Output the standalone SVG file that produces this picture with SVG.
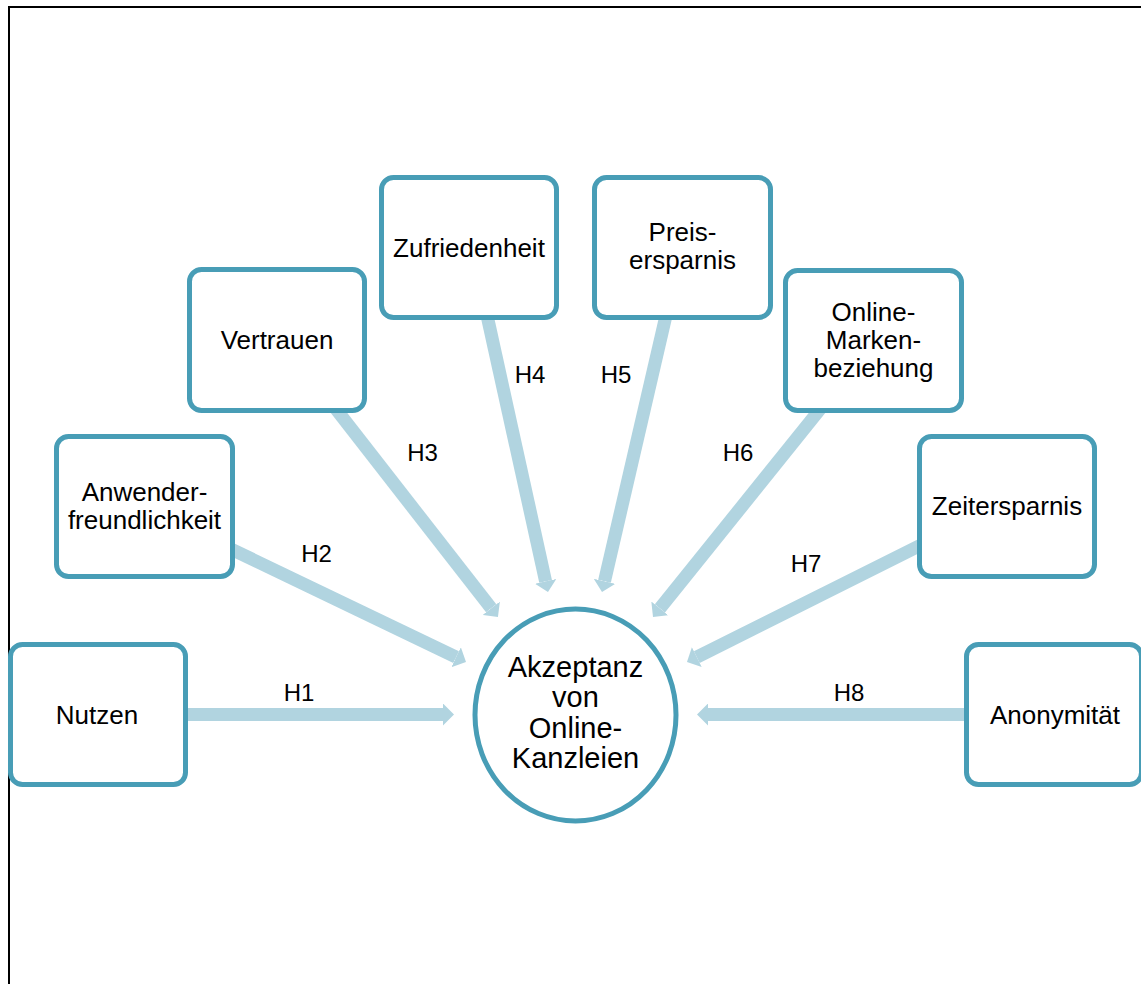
<svg xmlns="http://www.w3.org/2000/svg" width="1141" height="984" viewBox="0 0 1141 984">
<defs>
<style>
.box{fill:#ffffff;stroke:#489db6;stroke-width:5}
.t{font-family:"Liberation Sans",Arial,sans-serif;font-size:26px;fill:#000;text-anchor:middle}
.tc{font-family:"Liberation Sans",Arial,sans-serif;font-size:29px;fill:#000;text-anchor:middle}
.lbl{font-family:"Liberation Sans",Arial,sans-serif;font-size:24px;fill:#000;text-anchor:middle}
.arr{stroke:#b1d4e0;stroke-width:13;fill:none;marker-end:url(#ah)}
</style>
<marker id="ah" markerUnits="userSpaceOnUse" markerWidth="11" markerHeight="22" refX="0" refY="11" orient="auto" viewBox="0 0 11 22">
<path d="M0,0 L11,11 L0,22 z" fill="#b1d4e0"/>
</marker>
</defs>
<rect width="1141" height="984" fill="#ffffff"/>
<rect x="9" y="7" width="1200" height="1100" fill="none" stroke="#000" stroke-width="2"/>
<g id="connectors">
<line class="arr" x1="180" y1="714.5" x2="443" y2="714.5"/>
<line class="arr" x1="228" y1="547.6" x2="456.1" y2="657.2"/>
<line class="arr" x1="334" y1="406.6" x2="491.2" y2="608.3"/>
<line class="arr" x1="486.5" y1="313" x2="545.6" y2="581.3"/>
<line class="arr" x1="666.6" y1="313" x2="604.5" y2="581.3"/>
<line class="arr" x1="822" y1="406.8" x2="659.9" y2="608.4"/>
<line class="arr" x1="924" y1="543.5" x2="696.8" y2="657.1"/>
<line class="arr" x1="970" y1="714.5" x2="708" y2="714.5"/>
</g>
<g id="labels">
<text class="lbl" x="299" y="701">H1</text>
<text class="lbl" x="316.5" y="562">H2</text>
<text class="lbl" x="422.5" y="461">H3</text>
<text class="lbl" x="530" y="383">H4</text>
<text class="lbl" x="616" y="383">H5</text>
<text class="lbl" x="738" y="461">H6</text>
<text class="lbl" x="806" y="572">H7</text>
<text class="lbl" x="849" y="701">H8</text>
</g>
<g id="nutzen">
<rect class="box" x="10.5" y="644.5" width="175" height="140" rx="12"/>
<text class="t" x="97" y="724">Nutzen</text>
</g>
<g id="anwenderfreundlichkeit">
<rect class="box" x="56.5" y="436.5" width="176" height="140" rx="12"/>
<text class="t" x="144.5" y="501">Anwender-</text>
<text class="t" x="144.5" y="529">freundlichkeit</text>
</g>
<g id="vertrauen">
<rect class="box" x="189.5" y="269.5" width="175" height="141" rx="12"/>
<text class="t" x="277" y="349">Vertrauen</text>
</g>
<g id="zufriedenheit">
<rect class="box" x="381.5" y="177.5" width="175" height="140" rx="12"/>
<text class="t" x="469" y="257">Zufriedenheit</text>
</g>
<g id="preisersparnis">
<rect class="box" x="594.5" y="177.5" width="176" height="140" rx="12"/>
<text class="t" x="682.5" y="241">Preis-</text>
<text class="t" x="682.5" y="269">ersparnis</text>
</g>
<g id="online-markenbeziehung">
<rect class="box" x="785.5" y="270.5" width="176" height="140" rx="12"/>
<text class="t" x="873.5" y="321">Online-</text>
<text class="t" x="873.5" y="349">Marken-</text>
<text class="t" x="873.5" y="377">beziehung</text>
</g>
<g id="zeitersparnis">
<rect class="box" x="919.5" y="436.5" width="175" height="140" rx="12"/>
<text class="t" x="1007" y="515">Zeitersparnis</text>
</g>
<g id="anonymitaet">
<rect class="box" x="966.5" y="644.5" width="175" height="140" rx="12"/>
<text class="t" x="1055" y="724">Anonymität</text>
</g>
<g id="akzeptanz">
<ellipse cx="575.5" cy="715" rx="100.5" ry="106" fill="#ffffff" stroke="#489db6" stroke-width="5"/>
<text class="tc" x="575.5" y="677">Akzeptanz</text>
<text class="tc" x="575.5" y="707">von</text>
<text class="tc" x="575.5" y="738">Online-</text>
<text class="tc" x="575.5" y="768">Kanzleien</text>
</g>
</svg>
